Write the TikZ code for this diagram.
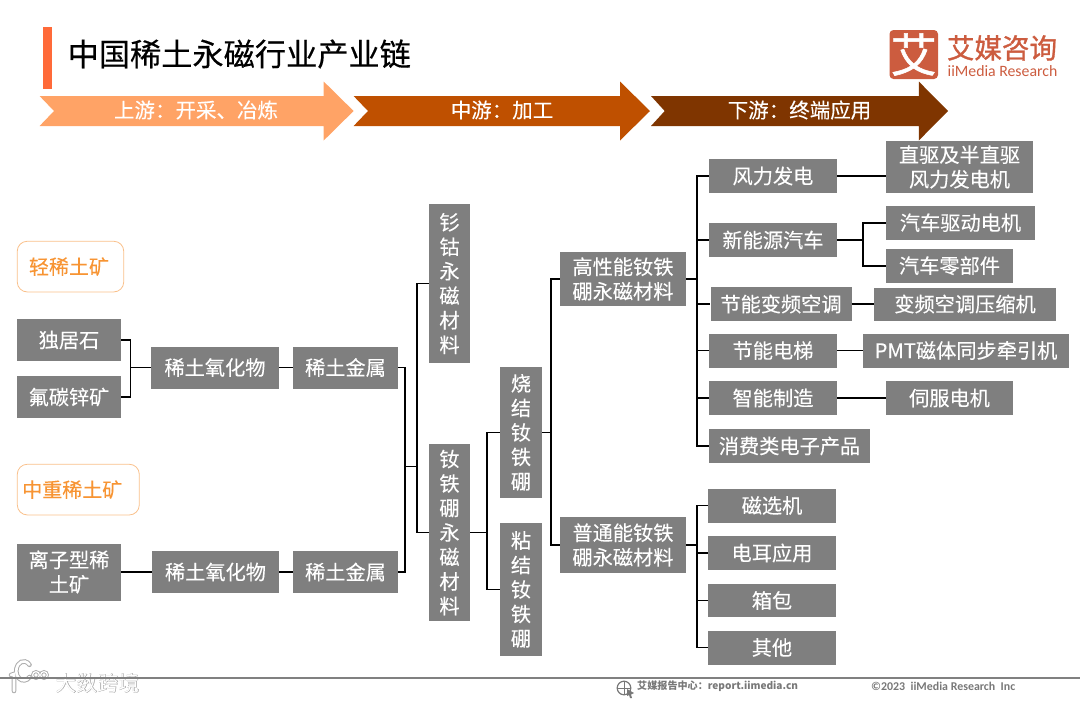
\documentclass[tikz,border=0pt]{standalone}
\usepackage{fontspec}
\setmainfont{Noto Sans CJK SC}
\newfontfamily\titlefont[FakeBold=0.35]{Noto Sans CJK SC}
\newfontfamily\boxfont[FakeBold=0.15]{Noto Sans CJK SC}
\newfontfamily\logofont[FakeBold=1.2]{Noto Sans CJK SC}
\newfontfamily\enfont{Carlito}
\definecolor{boxgray}{HTML}{7F7F7F}
\definecolor{upcolor}{HTML}{FFA366}
\definecolor{midcolor}{HTML}{BF5000}
\definecolor{downcolor}{HTML}{7F3500}
\definecolor{orecolor}{HTML}{F79433}
\definecolor{oreline}{HTML}{F9C08B}
\definecolor{barcolor}{HTML}{FF6A39}
\definecolor{logocolor}{HTML}{CC5C3F}
\definecolor{footgray}{HTML}{787878}
\tikzset{
  graybox/.style={fill=boxgray,text=white,inner sep=0pt,align=center,
    font=\boxfont\fontsize{20.2}{24.5}\selectfont},
  orebox/.style={draw=oreline,line width=0.8pt,rounded corners=10pt,text=orecolor,
    inner sep=0pt,font=\boxfont\fontsize{20}{24.5}\selectfont},
  conn/.style={draw=black,line width=1.8pt},
  arrowtext/.style={text=white,inner sep=0pt,font=\boxfont\fontsize{20.5}{24}\selectfont},
  size/.style n args={2}{minimum width=#1pt,minimum height=#2pt}
}
\begin{document}
\begin{tikzpicture}[x=1pt,y=-1pt]
  \useasboundingbox (0,0) rectangle (1080,702);
  % title and logo
  \fill[barcolor] (43,27) rectangle (52.3,88.5);
  \node[anchor=west,inner sep=0pt,font=\titlefont\fontsize{31.2}{36}\selectfont] (title) at (67.5,54) {中国稀土永磁行业产业链};
  \fill[logocolor,rounded corners=4pt] (889.5,30) rectangle (938,79);
  \node[text=white,inner sep=0pt,font=\logofont\fontsize{46}{50}\selectfont] (logomark) at (913.7,54.5) {艾};
  \node[text=logocolor,inner sep=0pt,font=\logofont\fontsize{27.5}{30}\selectfont] (logocn) at (1002,48) {艾媒咨询};
  \node[text=logocolor,inner sep=0pt,font=\enfont\fontsize{15.8}{18}\selectfont] (logoen) at (1002.5,71) {iiMedia Research};
  % stream arrows
  \fill[upcolor] (39.6,96) -- (323.7,96) -- (323.7,81.5) -- (353.6,111) -- (323.7,140.5) -- (323.7,126) -- (39.6,126) -- (54,111) -- cycle;
  \fill[midcolor] (353.6,96) -- (620,96) -- (620,81.5) -- (650,111) -- (620,140.5) -- (620,126) -- (353.6,126) -- (368,111) -- cycle;
  \fill[downcolor] (651,96) -- (918.8,96) -- (918.8,81.5) -- (948,111) -- (918.8,140.5) -- (918.8,126) -- (651,126) -- (664.7,111) -- cycle;
  \node[arrowtext] (up) at (196,110) {上游：开采、冶炼};
  \node[arrowtext] (mid) at (502,110) {中游：加工};
  \node[arrowtext] (down) at (799.5,110) {下游：终端应用};
  % ore column
  \node[orebox,size={106.5}{50.7}] (light) at (70.5,266.6) {轻稀土矿\hspace*{3pt}};
  \node[orebox,size={122}{50.7}] (heavy) at (78.3,489.6) {中重稀土矿\hspace*{12pt}};
  \node[graybox,size={104}{42}] (monazite) at (69,340) {独居石};
  \node[graybox,size={104}{42}] (bastnas) at (69,397) {氟碳锌矿};
  \node[graybox,size={104}{57}] (ionic) at (69,572) {离子型稀\\土矿};
  \node[graybox,size={128}{42}] (oxidea) at (215,367.5) {稀土氧化物};
  \node[graybox,size={105}{42}] (metala) at (345.5,367.5) {稀土金属};
  \node[graybox,size={127}{42}] (oxideb) at (215.5,572) {稀土氧化物};
  \node[graybox,size={105}{42}] (metalb) at (345.5,572) {稀土金属};
  % magnets
  \node[graybox,size={41.5}{159}] (smco) at (449.5,283.5) {钐\\钴\\永\\磁\\材\\料};
  \node[graybox,size={41.5}{177}] (ndfeb) at (449.5,532.5) {钕\\铁\\硼\\永\\磁\\材\\料};
  \node[graybox,size={42}{131}] (sintered) at (521,432.5) {烧\\结\\钕\\铁\\硼};
  \node[graybox,size={42}{133}] (bonded) at (521,589.5) {粘\\结\\钕\\铁\\硼};
  \node[graybox,size={126}{54}] (high) at (623,279) {高性能钕铁\\硼永磁材料};
  \node[graybox,size={126}{56}] (plain) at (623,545) {普通能钕铁\\硼永磁材料};
  % applications
  \node[graybox,size={128}{34}] (wind) at (773,176) {风力发电};
  \node[graybox,size={128}{34}] (nev) at (773,240) {新能源汽车};
  \node[graybox,size={141}{34}] (ac) at (781,304) {节能变频空调};
  \node[graybox,size={128}{34}] (lift) at (773,350.5) {节能电梯};
  \node[graybox,size={128}{34}] (smart) at (773,398) {智能制造};
  \node[graybox,size={161}{34}] (consumer) at (789.5,446) {消费类电子产品};
  \node[graybox,size={147.5}{52}] (direct) at (959.5,167) {直驱及半直驱\\风力发电机};
  \node[graybox,size={149}{34}] (drive) at (960.5,222.7) {汽车驱动电机};
  \node[graybox,size={127}{34}] (parts) at (949.5,265.7) {汽车零部件};
  \node[graybox,size={182}{33}] (comp) at (965,304) {变频空调压缩机};
  \node[graybox,size={206}{34}] (pmt) at (966,350.5) {PMT磁体同步牵引机};
  \node[graybox,size={127}{34}] (servo) at (949.5,398) {伺服电机};
  \node[graybox,size={128}{34}] (sep) at (772,505.5) {磁选机};
  \node[graybox,size={128}{34}] (ear) at (772,553) {电耳应用};
  \node[graybox,size={128}{33}] (bag) at (772,600.5) {箱包};
  \node[graybox,size={128}{34}] (other) at (772,647.5) {其他};
  % connectors
  \coordinate (joina) at (130.5,367.5);
  \coordinate (joinb) at (405,466.5);
  \coordinate (joinc) at (417,466.5);
  \coordinate (joind) at (487,532.5);
  \coordinate (joine) at (551,432.5);
  \coordinate (joinf) at (697,279);
  \coordinate (joing) at (697,545);
  \coordinate (joinh) at (862.7,240);
  \draw[conn] (monazite.east) -| (joina) |- (bastnas.east);
  \draw[conn] (joina) -- (oxidea.west);
  \draw[conn] (oxidea.east) -- (metala.west);
  \draw[conn] (ionic.east) -- (oxideb.west);
  \draw[conn] (oxideb.east) -- (metalb.west);
  \draw[conn] (metala.east) -| (joinb) |- (metalb.east);
  \draw[conn] (joinb) -- (joinc);
  \draw[conn] (smco.west) -| (joinc) |- (ndfeb.west);
  \draw[conn] (ndfeb.east) -- (joind);
  \draw[conn] (sintered.west) -| (joind) |- (bonded.west);
  \draw[conn] (sintered.east) -- (joine);
  \draw[conn] (high.west) -| (joine) |- (plain.west);
  \draw[conn] (high.east) -- (joinf);
  \draw[conn] (wind.west) -| (joinf) |- (consumer.west);
  \foreach \n in {nev,ac,lift,smart}
    \draw[conn] (joinf) |- (\n.west);
  \draw[conn] (plain.east) -- (joing);
  \draw[conn] (sep.west) -| (joing) |- (other.west);
  \foreach \n in {ear,bag}
    \draw[conn] (joing) |- (\n.west);
  \draw[conn] (wind.east) -- (wind.east -| direct.west);
  \draw[conn] (nev.east) -- (joinh);
  \draw[conn] (drive.west) -| (joinh) |- (parts.west);
  \draw[conn] (ac.east) -- (comp.west);
  \draw[conn] (lift.east) -- (pmt.west);
  \draw[conn] (smart.east) -- (servo.west);
  % watermark
  \draw[gray!65,line width=4.6pt,line cap=round] (11,675) -- (14,674) -- (14,691);
  \draw[gray!65,line width=4.6pt,line cap=round] (29.5,677) arc (40:320:7.5 and 9.5);
  \draw[gray!65,line width=3pt] (36,675) circle (3.4);
  \draw[gray!65,line width=3pt] (44,675) circle (3.4);
  \draw[white,line width=2.6pt,line cap=round] (11,675) -- (14,674) -- (14,691);
  \draw[white,line width=2.6pt,line cap=round] (29.5,677) arc (40:320:7.5 and 9.5);
  \draw[white,line width=1.2pt] (36,675) circle (3.4);
  \draw[white,line width=1.2pt] (44,675) circle (3.4);
  \node[text=gray!75,inner sep=0pt,font=\logofont\fontsize{21}{24}\selectfont] (markback) at (97.5,683) {大数跨境};
  \node[text=white,inner sep=0pt,font=\fontsize{21}{24}\selectfont] (mark) at (97.5,683) {大数跨境};
  % footer
  \draw[draw=gray,line width=1.5pt] (0,678) -- (1080,678);
  \draw[footgray,line width=1.2pt] (624,688) circle (6.8);
  \draw[footgray,line width=0.8pt] (617.2,688) -- (630.8,688) (624,681.2) -- (624,694.8);
  \fill[footgray] (627,689) -- (634,693) -- (631,694.5) -- (632,698) -- (630,698) -- (629,695) -- (627,696) -- cycle;
  \node[anchor=west,text=footgray,inner sep=0pt,font=\bfseries\fontsize{10.1}{12}\selectfont] (site) at (637,686) {艾媒报告中心：report.iimedia.cn};
  \node[anchor=west,text=footgray,inner sep=0pt,font=\enfont\bfseries\fontsize{11.9}{13}\selectfont] (copy) at (871,686) {©2023\ \ iiMedia Research\ \ Inc};
\end{tikzpicture}
\end{document}
